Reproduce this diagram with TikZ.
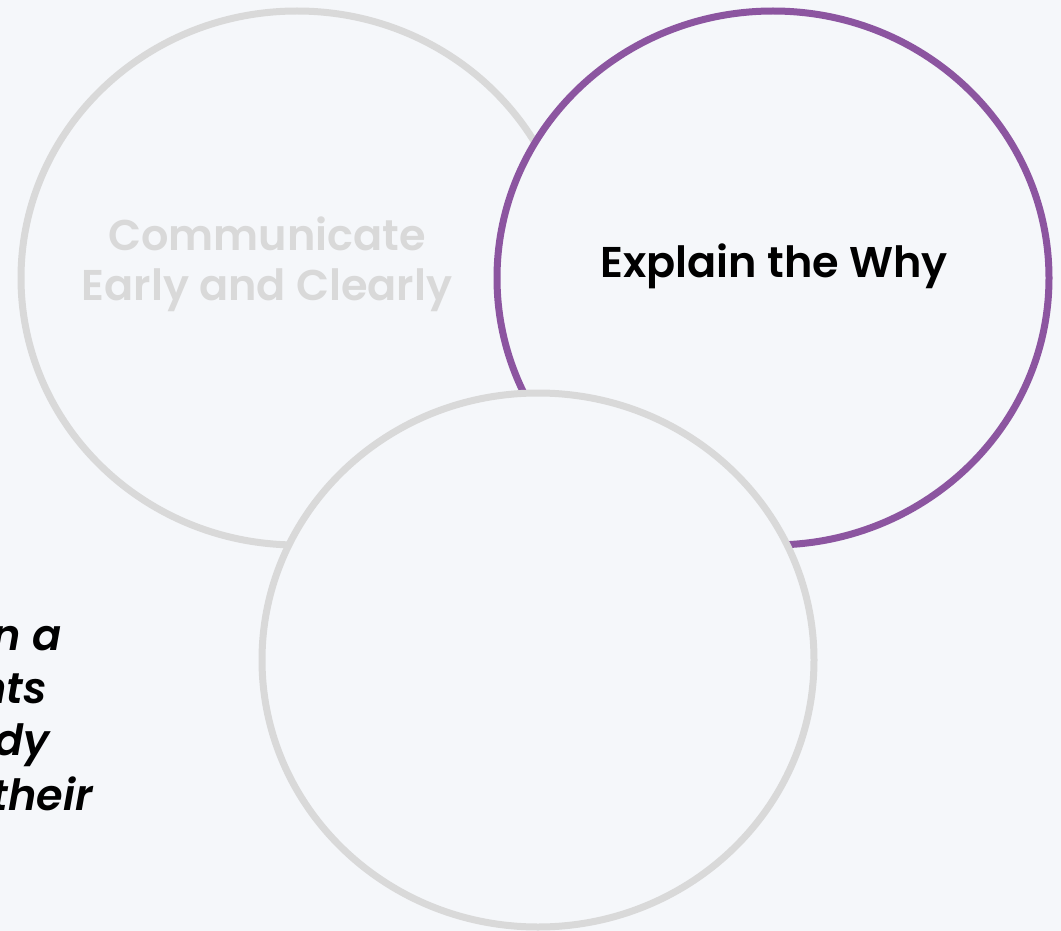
\documentclass[tikz,border=0pt]{standalone}
\usepackage{fontspec}
\setmainfont{Poppins}[BoldFont={* SemiBold},BoldItalicFont={* SemiBold Italic}]
\usetikzlibrary{shapes.geometric}
\definecolor{bgcol}{HTML}{F5F7FA}
\definecolor{ringgray}{HTML}{D9D9D9}
\definecolor{accent}{HTML}{8C55A0}
\tikzset{
  ring/.style={ellipse, minimum width=552pt, minimum height=534pt, inner sep=0pt,
               line width=7pt, fill=bgcol},
  title/.style={font=\fontsize{43}{50}\selectfont\bfseries, anchor=base, inner sep=0pt},
  quote/.style={font=\fontsize{43}{50}\selectfont\bfseries\itshape, anchor=base east, inner sep=0pt}
}
\begin{document}
\begin{tikzpicture}[x=1pt,y=-1pt]
\useasboundingbox (0,0) rectangle (1061,931);
\fill[bgcol] (0,0) rectangle (1061,931);
% quotation running in from the left edge
\begin{scope}
  \clip (0,0) rectangle (1061,931);
  \node[quote] (q1) at (62,650) {n a};
  \node[quote] (q2) at (47,703) {nts};
  \node[quote] (q3) at (50,755) {dy};
  \node[quote] (q4) at (93,810) {their};
\end{scope}
% the three overlapping circles
\node[ring, draw=ringgray] (left) at (297,278) {};
\node[ring, draw=accent] (right) at (773,278) {};
\node[ring, draw=ringgray] (bottom) at (538,660) {};
% labels
\node[title, text=ringgray] (l1a) at (267,250) {Communicate};
\node[title, text=ringgray] (l1b) at (267,300) {Early and Clearly};
\node[title, text=black] (l2) at (774,277) {Explain the Why};
\end{tikzpicture}
\end{document}
